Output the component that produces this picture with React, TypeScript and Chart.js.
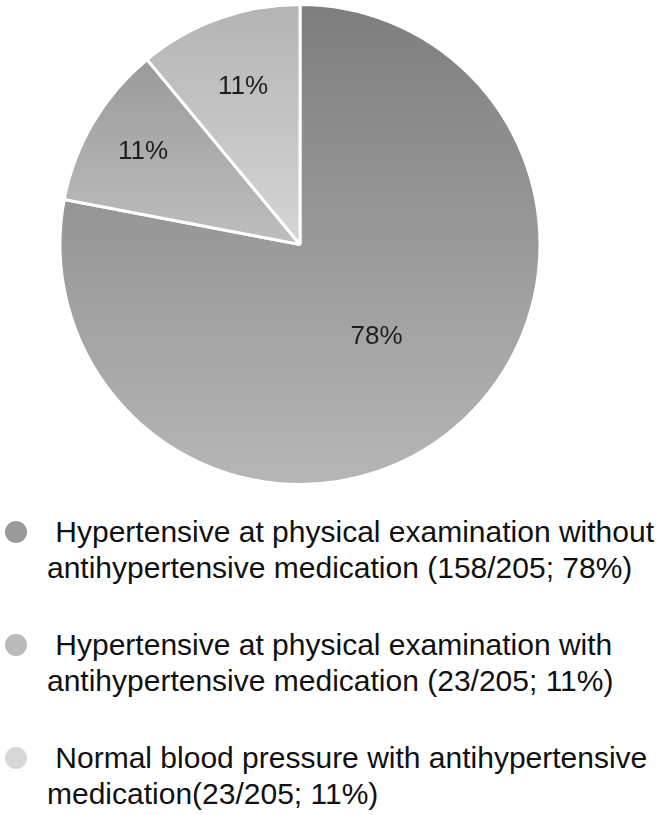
import React, { useEffect, useRef } from "react";
import { Chart, registerables } from "chart.js";

Chart.register(...registerables);

const categories = [
  "Hypertensive at physical examination without antihypertensive medication",
  "Hypertensive at physical examination with antihypertensive medication",
  "Normal blood pressure with antihypertensive medication",
];
const values = [78, 11, 11];
const sliceLabels = ["78%", "11%", "11%"];
const legendLines = [
  [" Hypertensive at physical examination without", "antihypertensive medication (158/205; 78%)"],
  [" Hypertensive at physical examination with", "antihypertensive medication (23/205; 11%)"],
  [" Normal blood pressure with antihypertensive", "medication(23/205; 11%)"],
];
const gradTop = ["#7e7e7e", "#9a9a9a", "#b4b4b4"];
const gradBottom = ["#b6b6b6", "#bebebe", "#d5d5d5"];
const markerColors = ["#9a9a9a", "#bababa", "#d8d8d8"];
const labelRadius = [0.5, 0.76, 0.7];

const labelPlugin = {
  id: "sliceLabels",
  afterDatasetsDraw(chart: any) {
    const meta = chart.getDatasetMeta(0);
    const ctx = chart.ctx;
    ctx.save();
    ctx.font = "26px 'Liberation Sans', Arial, sans-serif";
    ctx.fillStyle = "#1e1e1e";
    ctx.textAlign = "center";
    ctx.textBaseline = "middle";
    meta.data.forEach((arc: any, i: number) => {
      const p = arc.getProps(["x", "y", "startAngle", "endAngle", "outerRadius"], true);
      const mid = (p.startAngle + p.endAngle) / 2;
      const r = p.outerRadius * labelRadius[i];
      ctx.fillText(sliceLabels[i], p.x + Math.cos(mid) * r, p.y + Math.sin(mid) * r);
    });
    ctx.restore();
  },
};

function sliceGradient(c: any) {
  const ch = c.chart;
  const i = c.dataIndex;
  const area = ch.chartArea;
  if (!area) return gradBottom[i];
  const cx = (area.left + area.right) / 2;
  const cy = (area.top + area.bottom) / 2;
  const R = (Math.min(area.right - area.left, area.bottom - area.top) - 3) / 2;
  const total = values.reduce((a, b) => a + b, 0);
  let start = -Math.PI / 2;
  for (let k = 0; k < i; k++) start += (values[k] / total) * Math.PI * 2;
  const end = start + (values[i] / total) * Math.PI * 2;
  const ys = [cy];
  for (let k = 0; k <= 60; k++) {
    const a = start + ((end - start) * k) / 60;
    ys.push(cy + Math.sin(a) * R);
  }
  if (end - start > Math.PI) {
    ys.push(cy - R, cy + R);
  }
  const top = Math.min(...ys);
  const bottom = Math.max(...ys);
  const g = ch.ctx.createLinearGradient(0, top, 0, bottom);
  g.addColorStop(0, gradTop[i]);
  g.addColorStop(1, gradBottom[i]);
  return g;
}

export default function App() {
  const ref = useRef<HTMLCanvasElement>(null);
  useEffect(() => {
    if (!ref.current) return;
    const chart = new Chart(ref.current, {
      type: "pie",
      data: {
        labels: categories,
        datasets: [
          {
            data: values,
            backgroundColor: sliceGradient,
            borderColor: "#ffffff",
            borderWidth: 3,
          },
        ],
      },
      options: {
        responsive: false,
        animation: false,
        layout: { padding: { top: 3, bottom: 4, left: 0, right: 0 } },
        plugins: {
          legend: { display: false },
          tooltip: { enabled: false },
        },
      },
      plugins: [labelPlugin],
    });
    chart.update();
    return () => chart.destroy();
  }, []);

  const font = "'Liberation Sans', Arial, sans-serif";
  return (
    <div style={{ position: "absolute", left: 0, top: 0, width: 666, height: 815, background: "#fff", overflow: "hidden" }}>
      <canvas ref={ref} width={600} height={490} style={{ position: "absolute", left: 0, top: 0 }} />
      {legendLines.map((lines, i) => (
        <div key={i} style={{ position: "absolute", left: 0, top: 514 + i * 113, width: 666 }}>
          <div
            style={{
              position: "absolute",
              left: 5,
              top: 7,
              width: 22,
              height: 22,
              borderRadius: "50%",
              background: markerColors[i],
            }}
          />
          <div
            style={{
              position: "absolute",
              left: 47,
              top: 0,
              fontFamily: font,
              fontSize: 30,
              lineHeight: "36px",
              color: "#111",
              whiteSpace: "pre",
            }}
          >
            {lines[0]}
            <br />
            {lines[1]}
          </div>
        </div>
      ))}
    </div>
  );
}
